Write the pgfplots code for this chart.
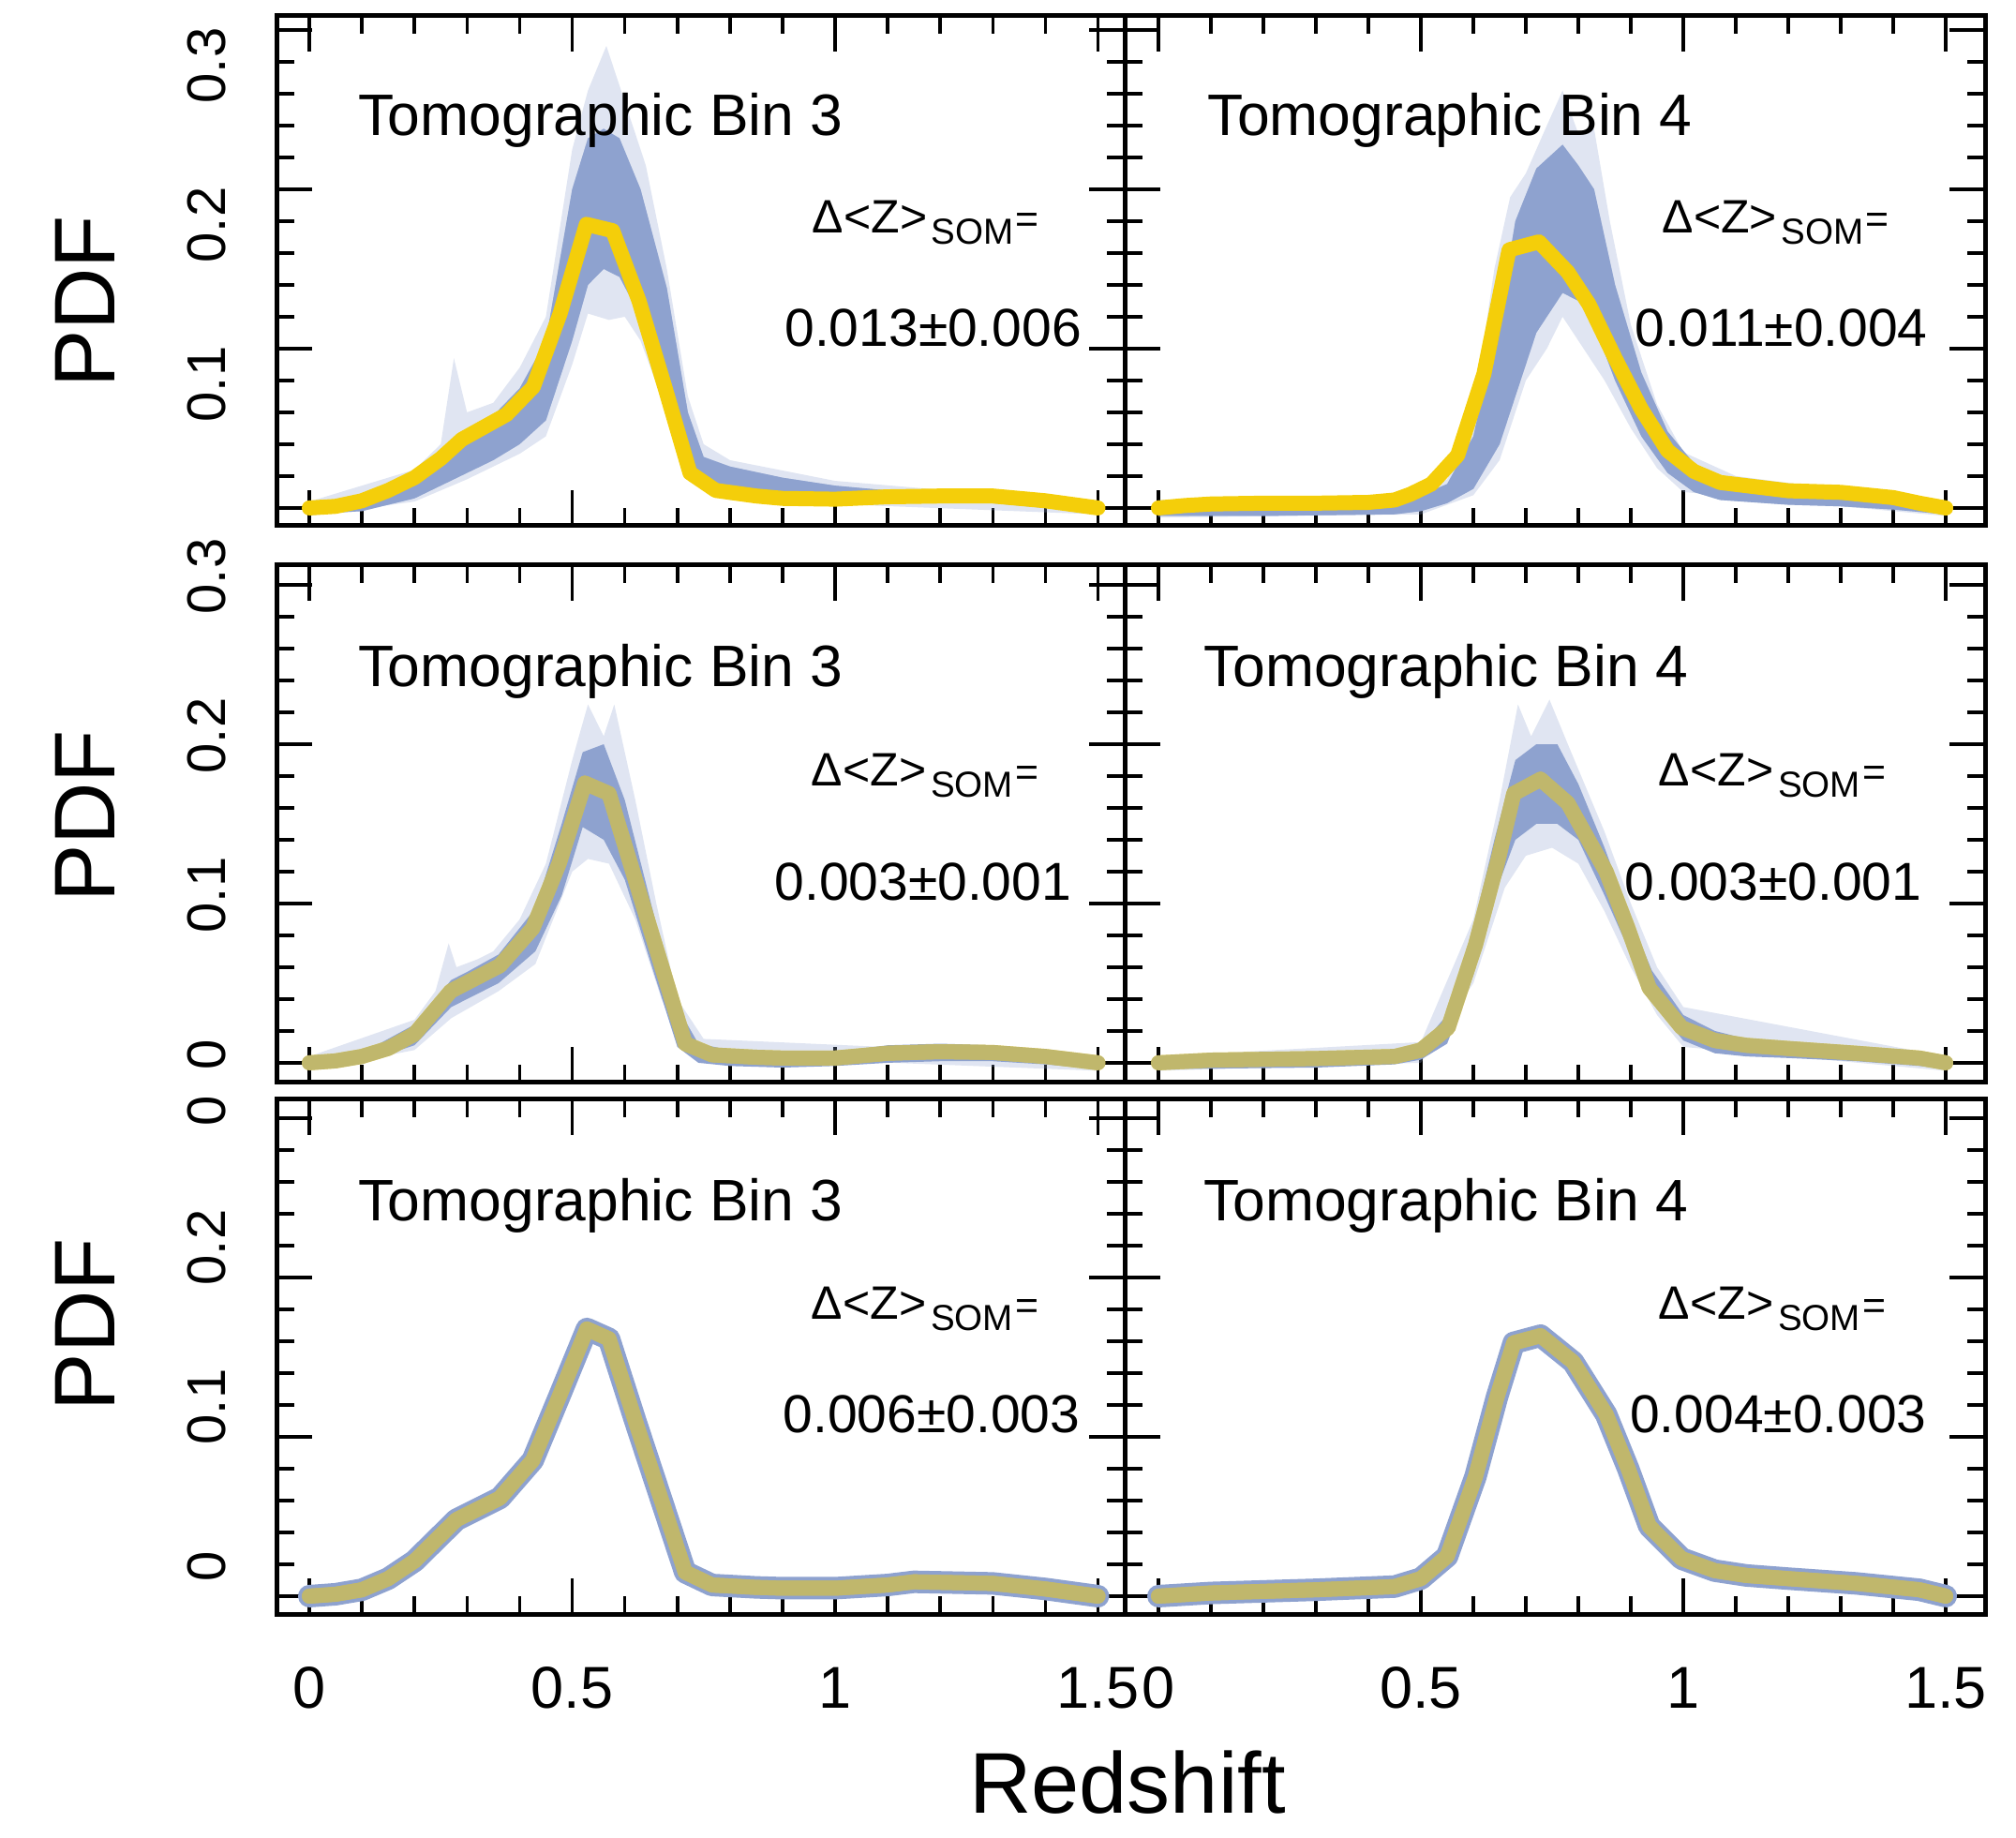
\documentclass[border=0pt]{standalone}
\usepackage{fontspec}
\setmainfont{Liberation Sans}
\usepackage{graphicx}
\usepackage{pgfplots}
\usepackage{pgfplotstable}
\pgfplotsset{compat=1.18}
\usepgfplotslibrary{fillbetween}

\definecolor{gold}{RGB}{244,206,10}
\definecolor{bandblue}{RGB}{142,162,207}

\newcommand{\dz}{{\fontsize{12.5}{13}\selectfont Δ<Z>}\hspace{1.2pt}\raisebox{-2.9pt}{\fontsize{9.65}{10}\selectfont SOM}\hspace{0.5pt}{\fontsize{10.7}{11}\selectfont =}}

\pgfplotstableread[row sep=\\]{x y\\
0 0\\ 0.05 0.001\\ 0.1 0.0045\\ 0.15 0.011\\ 0.2 0.019\\ 0.25 0.031\\ 0.29 0.043\\ 0.375 0.0586\\ 0.426 0.076\\ 0.477 0.122\\ 0.527 0.178\\ 0.577 0.174\\ 0.627 0.13\\ 0.677 0.075\\ 0.724 0.022\\ 0.773 0.011\\ 0.85 0.0075\\ 0.9 0.006\\ 1.0 0.0055\\ 1.1 0.007\\ 1.2 0.0075\\ 1.3 0.0075\\ 1.4 0.0045\\ 1.5 0\\
}\goldA
\pgfplotstableread[row sep=\\]{x y\\
0 0\\ 0.05 0.0015\\ 0.1 0.0025\\ 0.2 0.003\\ 0.3 0.003\\ 0.4 0.0035\\ 0.45 0.005\\ 0.48 0.0086\\ 0.52 0.015\\ 0.57 0.033\\ 0.62 0.084\\ 0.668 0.162\\ 0.725 0.167\\ 0.78 0.148\\ 0.82 0.128\\ 0.87 0.094\\ 0.92 0.062\\ 0.97 0.036\\ 1.02 0.023\\ 1.07 0.016\\ 1.2 0.0108\\ 1.3 0.0098\\ 1.4 0.0065\\ 1.45 0.003\\ 1.5 0\\
}\goldB
\pgfplotstableread[row sep=\\]{x y\\
0 0\\ 0.05 0.0012\\ 0.1 0.004\\ 0.15 0.009\\ 0.2 0.018\\ 0.269 0.045\\ 0.3625 0.061\\ 0.425 0.0845\\ 0.475 0.125\\ 0.524 0.1756\\ 0.57 0.169\\ 0.62 0.115\\ 0.67 0.061\\ 0.715 0.012\\ 0.766 0.005\\ 0.85 0.0035\\ 0.9 0.003\\ 1.0 0.003\\ 1.1 0.006\\ 1.2 0.007\\ 1.3 0.0065\\ 1.4 0.004\\ 1.5 0\\
}\goldC
\pgfplotstableread[row sep=\\]{x y\\
0 0\\ 0.1 0.0017\\ 0.2 0.0022\\ 0.3 0.0027\\ 0.45 0.004\\ 0.5 0.008\\ 0.552 0.022\\ 0.604 0.074\\ 0.646 0.126\\ 0.677 0.169\\ 0.728 0.178\\ 0.78 0.163\\ 0.853 0.12\\ 0.894 0.085\\ 0.935 0.047\\ 0.997 0.022\\ 1.06 0.014\\ 1.12 0.011\\ 1.2 0.009\\ 1.33 0.006\\ 1.45 0.003\\ 1.5 0\\
}\goldD
\pgfplotstableread[row sep=\\]{x y\\
0 0\\ 0.05 0.0012\\ 0.1 0.004\\ 0.15 0.011\\ 0.2 0.022\\ 0.28 0.048\\ 0.3625 0.0616\\ 0.425 0.0853\\ 0.475 0.125\\ 0.528 0.1677\\ 0.57 0.1615\\ 0.62 0.11\\ 0.67 0.06\\ 0.715 0.015\\ 0.766 0.007\\ 0.85 0.0055\\ 0.9 0.005\\ 1.0 0.005\\ 1.1 0.007\\ 1.15 0.009\\ 1.3 0.008\\ 1.4 0.0045\\ 1.5 0\\
}\goldE
\pgfplotstableread[row sep=\\]{x y\\
0 0\\ 0.1 0.002\\ 0.2 0.003\\ 0.3 0.004\\ 0.45 0.006\\ 0.5 0.011\\ 0.55 0.025\\ 0.604 0.075\\ 0.645 0.125\\ 0.677 0.159\\ 0.728 0.1635\\ 0.79 0.147\\ 0.853 0.114\\ 0.895 0.08\\ 0.935 0.044\\ 0.997 0.0235\\ 1.06 0.016\\ 1.12 0.013\\ 1.2 0.011\\ 1.33 0.008\\ 1.45 0.004\\ 1.5 0\\
}\goldF

\pgfplotsset{
  panel/.style={scale only axis, axis line style={line width=1.25pt},
    tick style={black, line width=0.9pt},
    major tick length=9.5pt, minor tick length=4.75pt,
    xtick={0,0.5,1,1.5}, minor x tick num=4,
    ytick={0,0.1,0.2,0.3}, minor y tick num=4,
    tick align=inside, xticklabels={}, yticklabels={}},
  lc/.style={at={(73.75pt,#1)}, anchor=south west, width=226.25pt, xmin=-0.0624, xmax=1.5508},
  rc/.style={at={(300pt,#1)}, anchor=south west, width=229.5pt, xmin=-0.0643, xmax=1.575},
  r1/.style={height=136pt, ymin=-0.0112, ymax=0.3088},
  r2/.style={height=138pt, ymin=-0.0124, ymax=0.3124},
  r3/.style={height=137.25pt, ymin=-0.0112, ymax=0.3118},
  ylab/.style={yticklabel style={font=\fontsize{14.5}{15}\selectfont, inner sep=0pt, xshift=-13.25pt, yshift=#1, rotate=90, anchor=south}},
  xlab/.style={xticklabels={0,0.5,1,1.5}, xticklabel style={font=\fontsize{15.75}{16}\selectfont, inner sep=0pt, anchor=north, yshift=-14pt}},
  goldline/.style={gold, line width=4pt, line cap=round, line join=round},
  overline/.style={bandblue, opacity=0.5, line width=4pt, line cap=round, line join=round},
  underline/.style={bandblue, line width=6pt, line cap=round, line join=round},
}
\newcommand{\tomo}[1]{\fontsize{15.6}{16}\selectfont Tomographic Bin #1}
\newcommand{\val}[1]{\fontsize{14.25}{15}\selectfont #1}

\begin{document}
\begin{tikzpicture}

% ---------------- Row 1 left
\begin{axis}[panel, lc=349.75pt, r1, ylab=-9.5pt, yticklabels={{},0.1,0.2,0.3}]
\addplot[name path=ou, draw=none] coordinates {(0,0.004)(0.2,0.024)(0.25,0.04)(0.275,0.094)(0.3,0.06)(0.35,0.066)(0.4,0.088)(0.45,0.12)(0.5,0.225)(0.53,0.262)(0.565,0.29)(0.6,0.255)(0.64,0.215)(0.68,0.15)(0.72,0.07)(0.75,0.04)(0.8,0.03)(1.0,0.017)(1.5,0.003)};
\addplot[name path=ol, draw=none] coordinates {(0,-0.005)(0.2,0.004)(0.3,0.018)(0.4,0.034)(0.45,0.045)(0.5,0.09)(0.53,0.122)(0.57,0.118)(0.6,0.12)(0.63,0.105)(0.68,0.06)(0.72,0.018)(0.8,0.005)(1.5,-0.004)};
\addplot[fill=bandblue, fill opacity=0.28] fill between[of=ou and ol];
\addplot[name path=u, draw=none] coordinates {(0,0.003)(0.1,0.006)(0.2,0.021)(0.25,0.033)(0.3,0.047)(0.35,0.058)(0.4,0.075)(0.45,0.105)(0.5,0.2)(0.53,0.232)(0.56,0.238)(0.59,0.232)(0.63,0.2)(0.68,0.138)(0.72,0.06)(0.75,0.032)(0.8,0.026)(0.9,0.019)(1.0,0.014)(1.1,0.011)(1.2,0.0105)(1.3,0.01)(1.4,0.006)(1.5,0.002)};
\addplot[name path=l, draw=none] coordinates {(0,-0.004)(0.1,-0.002)(0.2,0.006)(0.25,0.014)(0.3,0.022)(0.35,0.03)(0.4,0.04)(0.45,0.055)(0.5,0.105)(0.53,0.14)(0.56,0.15)(0.59,0.145)(0.63,0.12)(0.68,0.07)(0.72,0.022)(0.75,0.012)(0.8,0.007)(0.9,0.004)(1.0,0.003)(1.1,0.003)(1.2,0.003)(1.3,0.003)(1.4,0.0)(1.5,-0.003)};
\addplot[fill=bandblue] fill between[of=u and l];
\addplot[goldline] table {\goldA};
\addplot[fill=bandblue, fill opacity=0.5] fill between[of=u and l];
\node[anchor=base west, inner sep=0pt] at (rel axis cs:0.096,0.765) {\tomo{3}};
\node[anchor=base west, inner sep=0pt] at (rel axis cs:0.631,0.574) {\dz};
\node[anchor=base east, inner sep=0pt] at (rel axis cs:0.950,0.352) {\val{0.013±0.006}};
\end{axis}

% ---------------- Row 1 right
\begin{axis}[panel, rc=349.75pt, r1]
\addplot[name path=ou, draw=none] coordinates {(0,0.005)(0.45,0.006)(0.55,0.018)(0.6,0.06)(0.64,0.15)(0.67,0.195)(0.7,0.21)(0.74,0.24)(0.77,0.262)(0.8,0.235)(0.83,0.238)(0.86,0.18)(0.9,0.115)(0.95,0.065)(1.0,0.035)(1.1,0.02)(1.5,0.003)};
\addplot[name path=ol, draw=none] coordinates {(0,-0.006)(0.5,-0.004)(0.6,0.008)(0.65,0.03)(0.7,0.08)(0.74,0.1)(0.77,0.12)(0.8,0.105)(0.85,0.08)(0.9,0.05)(0.95,0.025)(1.0,0.01)(1.5,-0.005)};
\addplot[fill=bandblue, fill opacity=0.28] fill between[of=ou and ol];
\addplot[name path=u, draw=none] coordinates {(0,0.0045)(0.2,0.0045)(0.45,0.005)(0.5,0.008)(0.55,0.015)(0.6,0.045)(0.65,0.12)(0.68,0.18)(0.72,0.213)(0.77,0.228)(0.8,0.215)(0.83,0.2)(0.87,0.14)(0.92,0.085)(0.97,0.048)(1.02,0.028)(1.07,0.019)(1.2,0.011)(1.3,0.009)(1.4,0.005)(1.5,0.003)};
\addplot[name path=l, draw=none] coordinates {(0,-0.005)(0.2,-0.005)(0.45,-0.004)(0.5,-0.002)(0.55,0.003)(0.6,0.012)(0.65,0.04)(0.68,0.07)(0.72,0.11)(0.77,0.135)(0.8,0.13)(0.83,0.115)(0.87,0.08)(0.92,0.045)(0.97,0.022)(1.02,0.01)(1.07,0.005)(1.2,0.002)(1.3,0.001)(1.4,-0.001)(1.5,-0.004)};
\addplot[fill=bandblue] fill between[of=u and l];
\addplot[goldline] table {\goldB};
\addplot[fill=bandblue, fill opacity=0.5] fill between[of=u and l];
\node[anchor=base west, inner sep=0pt] at (rel axis cs:0.096,0.765) {\tomo{4}};
\node[anchor=base west, inner sep=0pt] at (rel axis cs:0.624,0.574) {\dz};
\node[anchor=base east, inner sep=0pt] at (rel axis cs:0.934,0.352) {\val{0.011±0.004}};
\end{axis}

% ---------------- Row 2 left
\begin{axis}[panel, lc=201.25pt, r2, ylab=2.25pt, yticklabels={0,0.1,0.2,0.3}]
\addplot[name path=ou, draw=none] coordinates {(0,0.004)(0.2,0.027)(0.24,0.045)(0.265,0.075)(0.28,0.06)(0.32,0.065)(0.35,0.07)(0.4,0.09)(0.45,0.125)(0.5,0.19)(0.53,0.225)(0.56,0.205)(0.58,0.225)(0.62,0.165)(0.66,0.1)(0.7,0.04)(0.75,0.015)(1.5,0.004)};
\addplot[name path=ol, draw=none] coordinates {(0,-0.005)(0.2,0.008)(0.27,0.028)(0.36,0.045)(0.43,0.062)(0.5,0.12)(0.53,0.128)(0.57,0.125)(0.62,0.09)(0.67,0.04)(0.72,0.005)(1.5,-0.005)};
\addplot[fill=bandblue, fill opacity=0.28] fill between[of=ou and ol];
\addplot[name path=u, draw=none] coordinates {(0,0.003)(0.1,0.006)(0.2,0.024)(0.27,0.052)(0.3,0.057)(0.36,0.068)(0.43,0.097)(0.48,0.15)(0.52,0.195)(0.56,0.2)(0.6,0.165)(0.65,0.1)(0.7,0.035)(0.74,0.012)(0.8,0.008)(0.9,0.006)(1.0,0.007)(1.1,0.011)(1.2,0.012)(1.3,0.011)(1.4,0.007)(1.5,0.003)};
\addplot[name path=l, draw=none] coordinates {(0,-0.004)(0.1,0.0)(0.2,0.011)(0.27,0.035)(0.3,0.04)(0.36,0.05)(0.43,0.07)(0.48,0.105)(0.52,0.148)(0.56,0.14)(0.6,0.115)(0.65,0.062)(0.7,0.01)(0.74,0.0)(0.8,-0.002)(0.9,-0.003)(1.0,-0.002)(1.1,0.0)(1.2,0.001)(1.3,0.001)(1.4,-0.001)(1.5,-0.004)};
\addplot[fill=bandblue] fill between[of=u and l];
\addplot[goldline] table {\goldC};
\addplot[overline] table {\goldC};
\node[anchor=base west, inner sep=0pt] at (rel axis cs:0.096,0.765) {\tomo{3}};
\node[anchor=base west, inner sep=0pt] at (rel axis cs:0.630,0.573) {\dz};
\node[anchor=base east, inner sep=0pt] at (rel axis cs:0.938,0.353) {\val{0.003±0.001}};
\end{axis}

% ---------------- Row 2 right
\begin{axis}[panel, rc=201.25pt, r2]
\addplot[name path=ou, draw=none] coordinates {(0,0.004)(0.5,0.013)(0.6,0.09)(0.65,0.165)(0.685,0.225)(0.71,0.205)(0.745,0.228)(0.78,0.2)(0.85,0.145)(0.9,0.1)(0.95,0.06)(1.0,0.035)(1.5,0.004)};
\addplot[name path=ol, draw=none] coordinates {(0,-0.005)(0.5,0.0)(0.6,0.05)(0.66,0.11)(0.7,0.13)(0.75,0.135)(0.8,0.125)(0.85,0.095)(0.9,0.06)(0.95,0.03)(1.0,0.01)(1.5,-0.005)};
\addplot[fill=bandblue, fill opacity=0.28] fill between[of=ou and ol];
\addplot[name path=u, draw=none] coordinates {(0,0.003)(0.3,0.004)(0.45,0.006)(0.5,0.011)(0.55,0.03)(0.6,0.085)(0.64,0.14)(0.68,0.19)(0.72,0.2)(0.76,0.2)(0.8,0.175)(0.85,0.135)(0.9,0.09)(0.94,0.058)(1.0,0.03)(1.06,0.02)(1.12,0.015)(1.2,0.012)(1.33,0.009)(1.45,0.005)(1.5,0.003)};
\addplot[name path=l, draw=none] coordinates {(0,-0.004)(0.3,-0.003)(0.45,-0.001)(0.5,0.002)(0.55,0.012)(0.6,0.055)(0.64,0.105)(0.68,0.14)(0.72,0.15)(0.76,0.15)(0.8,0.14)(0.85,0.105)(0.9,0.068)(0.94,0.038)(1.0,0.014)(1.06,0.006)(1.12,0.004)(1.2,0.003)(1.33,0.001)(1.45,-0.002)(1.5,-0.004)};
\addplot[fill=bandblue] fill between[of=u and l];
\addplot[goldline] table {\goldD};
\addplot[overline] table {\goldD};
\node[anchor=base west, inner sep=0pt] at (rel axis cs:0.091,0.765) {\tomo{4}};
\node[anchor=base west, inner sep=0pt] at (rel axis cs:0.620,0.573) {\dz};
\node[anchor=base east, inner sep=0pt] at (rel axis cs:0.927,0.353) {\val{0.003±0.001}};
\end{axis}

% ---------------- Row 3 left
\begin{axis}[panel, lc=59.5pt, r3, ylab=8pt, yticklabels={0,0.1,0.2,0\phantom{.3}}, xlab]
\addplot[underline] table {\goldE};
\addplot[goldline] table {\goldE};
\addplot[overline] table {\goldE};
\node[anchor=base west, inner sep=0pt] at (rel axis cs:0.096,0.764) {\tomo{3}};
\node[anchor=base west, inner sep=0pt] at (rel axis cs:0.630,0.573) {\dz};
\node[anchor=base east, inner sep=0pt] at (rel axis cs:0.948,0.353) {\val{0.006±0.003}};
\end{axis}

% ---------------- Row 3 right
\begin{axis}[panel, rc=59.5pt, r3, xlab]
\addplot[underline] table {\goldF};
\addplot[goldline] table {\goldF};
\addplot[overline] table {\goldF};
\node[anchor=base west, inner sep=0pt] at (rel axis cs:0.091,0.764) {\tomo{4}};
\node[anchor=base west, inner sep=0pt] at (rel axis cs:0.620,0.573) {\dz};
\node[anchor=base east, inner sep=0pt] at (rel axis cs:0.933,0.353) {\val{0.004±0.003}};
\end{axis}

\node[rotate=90, inner sep=0pt, font=\fontsize{23}{24}\selectfont] at (22.75pt,409.5pt) {PDF};
\node[rotate=90, inner sep=0pt, font=\fontsize{23}{24}\selectfont] at (22.75pt,272.25pt) {PDF};
\node[rotate=90, inner sep=0pt, font=\fontsize{23}{24}\selectfont] at (22.75pt,136.75pt) {PDF};
\node[anchor=base, inner sep=0pt, font=\fontsize{23}{24}\selectfont] at (300.75pt,6.5pt) {Redshift};

\pgfresetboundingbox
\path[use as bounding box] (0,0) rectangle (537.75pt,490pt);
\end{tikzpicture}
\end{document}
